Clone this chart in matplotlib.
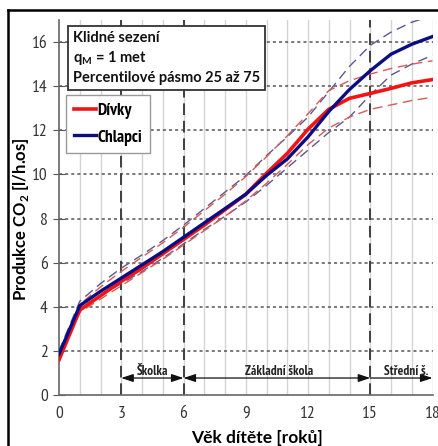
import numpy as np
import matplotlib
matplotlib.use("Agg")
import matplotlib.pyplot as plt
from matplotlib import font_manager
from matplotlib.lines import Line2D

# vek ditete [roku]
age = np.arange(0, 19)

# median - chlapci / divky
boys_med = [1.85, 4.05, 4.7, 5.3, 5.9, 6.5, 7.15, 7.8, 8.45, 9.1, 9.95, 10.7,
            11.7, 12.85, 13.85, 14.7, 15.45, 15.9, 16.25]
girls_med = [1.6, 3.85, 4.5, 5.15, 5.75, 6.4, 7.05, 7.7, 8.4, 9.1, 10.05, 10.95,
             12.05, 12.95, 13.45, 13.67, 13.9, 14.15, 14.3]

# percentil 75
boys_p75 = [2.0, 4.25, 5.05, 5.75, 6.35, 7.0, 7.7, 8.45, 9.2, 9.95, 10.85, 11.7,
            12.6, 13.75, 14.9, 15.85, 16.45, 16.9, 17.2]
girls_p75 = [1.75, 4.1, 4.9, 5.6, 6.25, 6.9, 7.6, 8.35, 9.1, 9.9, 10.8, 11.75,
             12.75, 13.8, 14.25, 14.55, 14.8, 15.0, 15.15]

# percentil 25
boys_p25 = [1.75, 3.95, 4.5, 5.05, 5.6, 6.2, 6.85, 7.5, 8.1, 8.75, 9.5, 10.3,
            11.1, 11.9, 12.6, 13.6, 14.5, 15.0, 15.4]
girls_p25 = [1.5, 3.75, 4.35, 4.95, 5.55, 6.15, 6.8, 7.45, 8.1, 8.8, 9.6, 10.45,
             11.35, 12.1, 12.6, 12.95, 13.15, 13.35, 13.5]

# skolni obdobi
stages = ["Školka", "Základní škola", "Střední š."]
stage_start = [3, 6, 15]
stage_end = [6, 15, 18]
stage_xtext = [4.5, 10.6, 16.75]

xticks = [0, 3, 6, 9, 12, 15, 18]
yticks = [0, 2, 4, 6, 8, 10, 12, 14, 16]


def pick(cands):
    have = {f.name for f in font_manager.fontManager.ttflist}
    return [c for c in cands if c in have] + ['DejaVu Sans']


bold_font = pick(['Lato'])
narrow = pick(['PT Sans Narrow', 'Archivo Narrow', 'Liberation Sans Narrow'])

plt.rcParams['font.family'] = bold_font
plt.rcParams['mathtext.fontset'] = 'custom'
plt.rcParams['mathtext.bf'] = bold_font[0] + ':bold'
plt.rcParams['mathtext.rm'] = bold_font[0]

W, H = 438, 446
fig = plt.figure(figsize=(W / 100, H / 100), dpi=100)
ax = fig.add_axes([59 / W, 1 - 395 / H, (432.5 - 59) / W, (395 - 20) / H])

# mrizka
for x in range(1, 19):
    ax.axvline(x, color='#d4d4d4', lw=1.0, zorder=0)
for y in yticks[1:]:
    ax.axhline(y, color='#555555', lw=1.1, ls=(0, (2, 2)), zorder=1)
for x in stage_start:
    ax.axvline(x, color='#404040', lw=1.4, ls=(0, (6, 3)), zorder=1)

# percentilove pasmo
ax.plot(age, boys_p75, color='#5a5a8c', lw=1.0, ls=(0, (7, 4)), zorder=3)
ax.plot(age, boys_p25, color='#5a5a8c', lw=1.0, ls=(0, (7, 4)), zorder=3)
ax.plot(age, girls_p75, color='#d85a5a', lw=1.0, ls=(0, (7, 4)), zorder=3)
ax.plot(age, girls_p25, color='#d85a5a', lw=1.0, ls=(0, (7, 4)), zorder=3)

ax.plot(age, girls_med, color='#f21414', lw=2.6, zorder=4, label='Dívky')
ax.plot(age, boys_med, color='#0c0c85', lw=2.4, zorder=5, label='Chlapci')

# sipky obdobi
for i, s in enumerate(stages):
    style = '<|-|>' if i < 2 else '<|-'
    ax.annotate('', xy=(stage_start[i], 0.77), xytext=(stage_end[i], 0.77),
                arrowprops=dict(arrowstyle=style + ',head_length=0.6,head_width=0.2',
                                color='#111111', lw=0.9, shrinkA=0, shrinkB=0,
                                mutation_scale=12))
    ax.text(stage_xtext[i], 1.08, s, ha='center', va='center', fontsize=9.5,
            fontweight='bold', family=narrow, color='#222222')

ax.set_xlim(0, 18)
ax.set_ylim(0, 17)
ax.set_xticks(xticks)
ax.set_yticks(yticks)
ax.tick_params(axis='y', direction='inout', length=8, color='#555555',
               labelsize=12.5, labelcolor='#333333', pad=4)
ax.tick_params(axis='x', length=0, labelsize=12.5, labelcolor='#333333', pad=8)
for lab in ax.get_xticklabels() + ax.get_yticklabels():
    lab.set_family(narrow)

for sp in ['top', 'right']:
    ax.spines[sp].set_visible(False)
for sp in ['left', 'bottom']:
    ax.spines[sp].set_color('#666666')
    ax.spines[sp].set_linewidth(1.2)

ax.set_xlabel('Věk dítěte [roků]', fontsize=12.5, fontweight='bold', labelpad=4)
ax.xaxis.set_label_coords((257 - 59) / 373.5, -(438 - 395) / 375, transform=ax.transAxes)
ax.set_ylabel(r'Produkce CO$_\mathbf{2}$ [l/h.os]', fontsize=12, fontweight='bold')
ax.yaxis.set_label_coords((21 - 59) / 373.5, (395 - 219) / 375, transform=ax.transAxes)
ax.yaxis.label.set_va('center')
ax.xaxis.label.set_va('center')

# textovy ramecek
fig.text(73 / W, 1 - 58 / H,
         'Klidné sezení\nq$_\\mathbf{M}$ = 1 met\nPercentilové pásmo 25 až 75',
         ha='left', va='center', fontsize=10.5, fontweight='bold',
         linespacing=1.35, color='#111111',
         bbox=dict(boxstyle='square,pad=0.35', fc='white', ec='#333333', lw=1.3))

leg = ax.legend(loc='upper left', bbox_to_anchor=(66 / W, 1 - 95 / H),
                bbox_transform=fig.transFigure, borderaxespad=0,
                fancybox=False, edgecolor='#999999', framealpha=1,
                handlelength=1.3, handletextpad=0.05, labelspacing=0.6,
                borderpad=0.45, prop=dict(family=narrow, weight='bold', size=12.5))
leg.get_frame().set_linewidth(1.0)

# ramecek obrazku
fig.add_artist(Line2D([8 / W, 1], [1 - 10 / H, 1 - 10 / H], color='black',
                      lw=1.8, transform=fig.transFigure))
fig.add_artist(Line2D([8 / W, 8 / W], [0, 1 - 10 / H], color='black',
                      lw=1.8, transform=fig.transFigure))

fig.savefig('out.png', dpi=100)
